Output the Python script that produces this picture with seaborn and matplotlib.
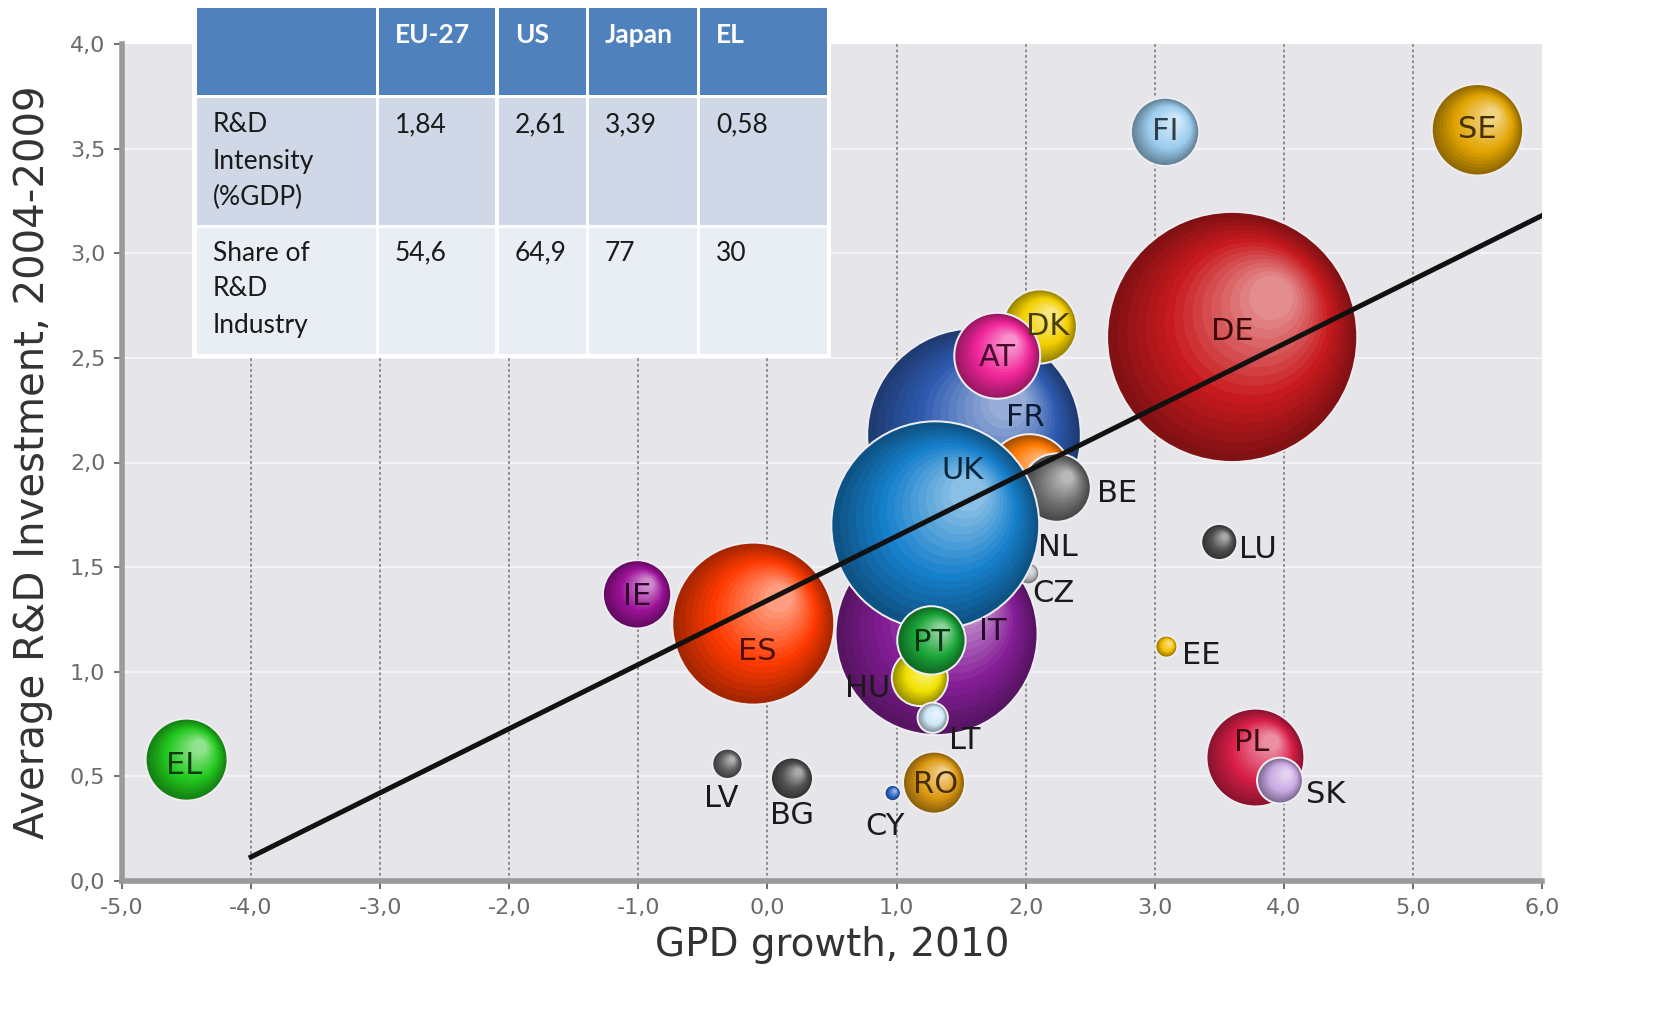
import numpy as np
import pandas as pd
import seaborn as sns
import matplotlib.pyplot as plt
from matplotlib.colors import to_rgb
from matplotlib.patches import Rectangle

# bubble data, listed back to front
countries = ['DE', 'SE', 'FI', 'FR', 'DK', 'AT', 'IT', 'NL', 'CZ', 'BE', 'UK', 'ES', 'IE',
             'HU', 'PT', 'LT', 'RO', 'CY', 'BG', 'LV', 'EL', 'LU', 'EE', 'PL', 'SK']
gdp_growth = [3.60, 5.50, 3.08, 1.60, 2.11, 1.78, 1.31, 2.03, 2.02, 2.24, 1.30, -0.11, -1.01,
              1.18, 1.27, 1.28, 1.29, 0.97, 0.19, -0.31, -4.50, 3.50, 3.09, 3.78, 3.97]
rd_invest = [2.60, 3.59, 3.58, 2.13, 2.65, 2.51, 1.18, 1.93, 1.47, 1.88, 1.70, 1.23, 1.37,
             0.97, 1.15, 0.78, 0.47, 0.42, 0.49, 0.56, 0.58, 1.62, 1.12, 0.59, 0.48]
bubble_size = [154, 20, 11, 112, 13, 17.6, 100, 17.6, 1.0, 11, 106, 64, 11,
               7.3, 11, 2.0, 9.0, 0.5, 4.0, 2.0, 16, 2.9, 1.0, 23, 4.8]

# fitted trend line
trend_x = [-4.0, 6.0]
trend_y = [0.115, 3.18]

# inset table
table_cols = ['EU-27', 'US', 'Japan', 'EL']
table_rows = [['R&D', 'Intensity', '(%GDP)'], ['Share of', 'R&D', 'Industry']]
rd_intensity = ['1,84', '2,61', '3,39', '0,58']
industry_share = ['54,6', '64,9', '77', '30']

colors = {
    'DE': '#C81A1E', 'SE': '#E2A400', 'FI': '#9CCDEE', 'FR': '#2E5BB0', 'DK': '#F2D000',
    'AT': '#F0259A', 'IT': '#861E98', 'NL': '#FF7A00', 'CZ': '#B8B8C0', 'BE': '#707070',
    'UK': '#1680CC', 'ES': '#FF3A00', 'IE': '#9C1198', 'HU': '#F2E200', 'PT': '#1AA638',
    'LT': '#CFE8F8', 'RO': '#DE9A12', 'CY': '#2E68C8', 'BG': '#505050', 'LV': '#606060',
    'EL': '#22C81E', 'LU': '#505050', 'EE': '#F4BE00', 'PL': '#D81E48', 'SK': '#C8A8E2',
}
inside = {'DE', 'SE', 'FI', 'FR', 'DK', 'AT', 'UK', 'IT', 'PT', 'RO', 'ES', 'IE', 'EL', 'PL'}
# label offsets in pixels (right, up) from bubble centre
label_off = {
    'DE': (0, 5), 'SE': (0, 0), 'FI': (0, 0), 'FR': (51, 18), 'DK': (8, 0), 'AT': (0, -2),
    'IT': (56, 3), 'NL': (28, -70), 'CZ': (25, -20), 'BE': (60, -6), 'UK': (27, 55),
    'ES': (4, -28), 'IE': (0, -2), 'HU': (-52, -10), 'PT': (0, -2), 'LT': (32, -23),
    'RO': (2, -2), 'CY': (-8, -33), 'BG': (0, -37), 'LV': (-6, -35), 'EL': (-2, -6),
    'LU': (39, -7), 'EE': (35, -9), 'PL': (-4, 15), 'SK': (46, -14),
}


def shade(c, t):
    c = np.array(to_rgb(c))
    if t < 0:
        return tuple(c * (1 + t))
    return tuple(c + (1 - c) * t)


W, H = 1664, 1031
fig = plt.figure(figsize=(W / 100, H / 100), dpi=100)
ax = fig.add_axes([122 / W, 1 - 881 / H, 1420 / W, 837 / H])
ax.set_facecolor('#E5E5EA')
ax.set_xlim(-5, 6)
ax.set_ylim(0, 4)

ppx = 1420 / 11
ppy = 837 / 4

# build shaded sphere layers, one bubble after another so overlaps stay right
rows = []
palette = {}
steps = np.linspace(0, 1, 16)
for c, x, y, w in zip(countries, gdp_growth, rd_invest, bubble_size):
    r = 10 * np.sqrt(w)
    layers = [('halo', r + 2, 0, '#EEEEF2')]
    for i, t in enumerate(steps):
        f = 1 - 0.82 * t
        d = (1 - f) * r * 0.55
        tint = -0.35 + 0.85 * t
        layers.append((i, r * f, d, shade(colors[c], tint)))
    for name, rad, d, col in layers:
        key = f'{c}_{name}'
        palette[key] = col
        rows.append({'x': x + d * 0.7 / ppx, 'y': y + d * 0.7 / ppy,
                     's': (2 * rad * 0.72) ** 2, 'key': key})
layers_df = pd.DataFrame(rows)

ax.grid(False)
for v in np.arange(0.5, 4.0, 0.5):
    ax.axhline(v, color='white', lw=1.5, alpha=0.6, zorder=0.5)
for v in range(-4, 6):
    ax.axvline(v, color='#858585', lw=1.3, ls=(0, (1.5, 1.5)), zorder=0.6)

smin, smax = layers_df['s'].min(), layers_df['s'].max()
sns.scatterplot(data=layers_df, x='x', y='y', hue='key', palette=palette,
                size='s', sizes=(smin, smax), size_norm=(smin, smax),
                linewidth=0, edgecolor='none', legend=False, ax=ax, zorder=2)

sns.lineplot(x=trend_x, y=trend_y, color='#111111', lw=3.6, ax=ax, zorder=3)

for c, x, y in zip(countries, gdp_growth, rd_invest):
    dx, dy = label_off[c]
    col = shade(colors[c], -0.7) if c in inside else '#1a1a1a'
    ax.annotate(c, (x, y), xytext=(dx * 0.72, dy * 0.72), textcoords='offset points',
                ha='center', va='center', fontsize=22, color=col, zorder=4)

xt = np.arange(-5, 7)
yt = np.arange(0, 4.01, 0.5)
ax.set_xticks(xt)
ax.set_yticks(yt)
ax.set_xticklabels([f'{v:.1f}'.replace('.', ',') for v in xt])
ax.set_yticklabels([f'{v:.1f}'.replace('.', ',') for v in yt])
ax.tick_params(axis='both', direction='out', length=6, width=1.2, color='#555555',
               labelcolor='#6a6a6a', labelsize=16, pad=6)
for s in ['top', 'right']:
    ax.spines[s].set_visible(False)
for s in ['left', 'bottom']:
    ax.spines[s].set_color('#9a9a9a')
    ax.spines[s].set_linewidth(4)
ax.set_xlabel('GPD growth, 2010', fontsize=28, color='#333333', labelpad=6)
ax.set_ylabel('Average R&D Investment, 2004-2009', fontsize=29, color='#333333', labelpad=12)


# inset table drawn in figure pixels
def fx(px):
    return px / W


def fy(py):
    return 1 - py / H


def cell(x0, y0, x1, y1, col, z=10):
    fig.add_artist(Rectangle((fx(x0), fy(y1)), fx(x1) - fx(x0), fy(y0) - fy(y1),
                             transform=fig.transFigure, facecolor=col, edgecolor='none',
                             zorder=z))


col_edges = [195, 377, 497, 587, 698, 828]
row_edges = [7, 96, 226, 355]
row_colors = ['#4F81BD', '#D0D8E8', '#E9EDF4']
cell(192, 4, 831, 358, 'white', z=9)
for ri in range(3):
    for ci in range(5):
        cell(col_edges[ci] + 1.5, row_edges[ri] + 1.5, col_edges[ci + 1] - 1.5,
             row_edges[ri + 1] - 1.5, row_colors[ri])

for ci, name in enumerate(table_cols):
    fig.text(fx(col_edges[ci + 1] + 18), fy(35), name, fontsize=19, fontweight='bold',
             family='Lato', color='white', va='center', ha='left', zorder=11)
for ri, (label, vals) in enumerate(zip(table_rows, [rd_intensity, industry_share])):
    top = [125, 253][ri]
    for li, line in enumerate(label):
        fig.text(fx(213), fy(top + 36 * li), line, fontsize=19, family='Lato',
                 color='#1a1a1a', va='center', ha='left', zorder=11)
    for ci, v in enumerate(vals):
        fig.text(fx(col_edges[ci + 1] + 18), fy(top), v, fontsize=19, family='Lato',
                 color='#1a1a1a', va='center', ha='left', zorder=11)

fig.savefig('out.png', dpi=100, facecolor='white')
